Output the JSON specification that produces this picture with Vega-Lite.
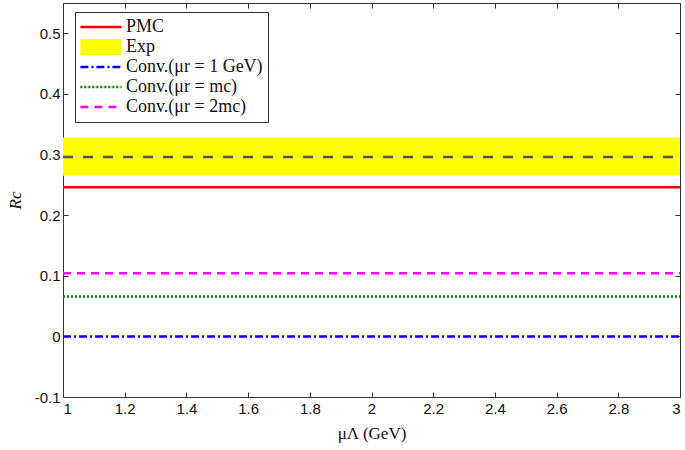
{
  "$schema": "https://vega.github.io/schema/vega-lite/v6.json",
  "width": 617,
  "height": 394,
  "autosize": {"type": "none"},
  "padding": {"left": 63, "top": 3, "right": 5, "bottom": 53},
  "background": "white",
  "config": {
    "view": {"stroke": "#333", "strokeWidth": 1},
    "axis": {
      "grid": false,
      "domainColor": "#333",
      "tickColor": "#333",
      "tickSize": -5,
      "labelFont": "Liberation Sans",
      "labelFontSize": 15,
      "labelColor": "#111",
      "titleFont": "Liberation Serif",
      "titleFontSize": 17,
      "titleFontWeight": "normal",
      "titleColor": "#111"
    }
  },
  "resolve": {"axis": {"x": "independent", "y": "independent"}},
  "layer": [
    {
      "data": {"values": [{"x": 1, "lo": 0.265, "hi": 0.328}, {"x": 3, "lo": 0.265, "hi": 0.328}]},
      "mark": {"type": "area", "color": "#ffff00", "opacity": 1},
      "encoding": {
        "x": {"field": "x", "type": "quantitative", "scale": {"domain": [1, 3], "nice": false, "zero": false},
              "axis": {"orient": "top", "labels": false, "title": null, "values": [1,1.2,1.4,1.6,1.8,2,2.2,2.4,2.6,2.8,3], "domain": false}},
        "y": {"field": "lo", "type": "quantitative", "scale": {"domain": [-0.1, 0.55], "nice": false, "zero": false},
              "axis": {"orient": "right", "labels": false, "title": null, "values": [-0.1,0,0.1,0.2,0.3,0.4,0.5], "domain": false}},
        "y2": {"field": "hi"}
      }
    },
    {
      "data": {"values": [{"x": 1, "y": 0.296}, {"x": 3, "y": 0.296}]},
      "mark": {"type": "line", "color": "#555555", "strokeWidth": 2.5, "strokeDash": [10, 10]},
      "encoding": {
        "x": {"field": "x", "type": "quantitative", "axis": null},
        "y": {"field": "y", "type": "quantitative", "axis": null}
      }
    },
    {
      "data": {"values": [
        {"x": 1, "y": 0.246, "s": "PMC"}, {"x": 3, "y": 0.246, "s": "PMC"},
        {"x": 1, "y": 0.0, "s": "Conv.(μr = 1 GeV)"}, {"x": 3, "y": 0.0, "s": "Conv.(μr = 1 GeV)"},
        {"x": 1, "y": 0.066, "s": "Conv.(μr = mc)"}, {"x": 3, "y": 0.066, "s": "Conv.(μr = mc)"},
        {"x": 1, "y": 0.104, "s": "Conv.(μr = 2mc)"}, {"x": 3, "y": 0.104, "s": "Conv.(μr = 2mc)"}
      ]},
      "mark": {"type": "line"},
      "encoding": {
        "x": {"field": "x", "type": "quantitative",
              "axis": {"orient": "bottom", "title": "μΛ (GeV)", "values": [1,1.2,1.4,1.6,1.8,2,2.2,2.4,2.6,2.8,3], "labelPadding": 9, "titlePadding": 9, "format": "~g"}},
        "y": {"field": "y", "type": "quantitative",
              "axis": {"orient": "left", "title": "Rc", "titleFontStyle": "italic", "values": [-0.1,0,0.1,0.2,0.3,0.4,0.5], "labelPadding": 8, "titlePadding": 10, "format": "~g",
                       "labelExpr": "replace(datum.label, '−', '-')"}},
        "color": {"field": "s", "type": "nominal",
          "scale": {"domain": ["PMC", "Exp", "Conv.(μr = 1 GeV)", "Conv.(μr = mc)", "Conv.(μr = 2mc)"],
                    "range": ["#ff0000", "#ffff00", "#0000ff", "#008000", "#ff00ff"]},
          "legend": {"title": null, "orient": "none", "legendX": 12, "legendY": 9,
            "symbolType": "stroke", "symbolSize": 1700, "clipHeight": 20,
            "symbolOffset": -8,
            "labelFont": "Liberation Serif", "labelFontSize": 18, "labelColor": "#111",
            "rowPadding": 0, "labelOffset": -4,
            "strokeColor": "#333", "fillColor": "white", "padding": 5}},
        "strokeDash": {"field": "s", "type": "nominal",
          "scale": {"domain": ["PMC", "Exp", "Conv.(μr = 1 GeV)", "Conv.(μr = mc)", "Conv.(μr = 2mc)"],
                    "range": [[1, 0], [1, 0], [8, 3, 2, 3], [2, 2], [8, 6]]}},
        "strokeWidth": {"field": "s", "type": "nominal",
          "scale": {"type": "ordinal", "domain": ["PMC", "Exp", "Conv.(μr = 1 GeV)", "Conv.(μr = mc)", "Conv.(μr = 2mc)"],
                    "range": [2.5, 16, 2.5, 2.5, 2.5]}}
      }
    }
  ]
}
